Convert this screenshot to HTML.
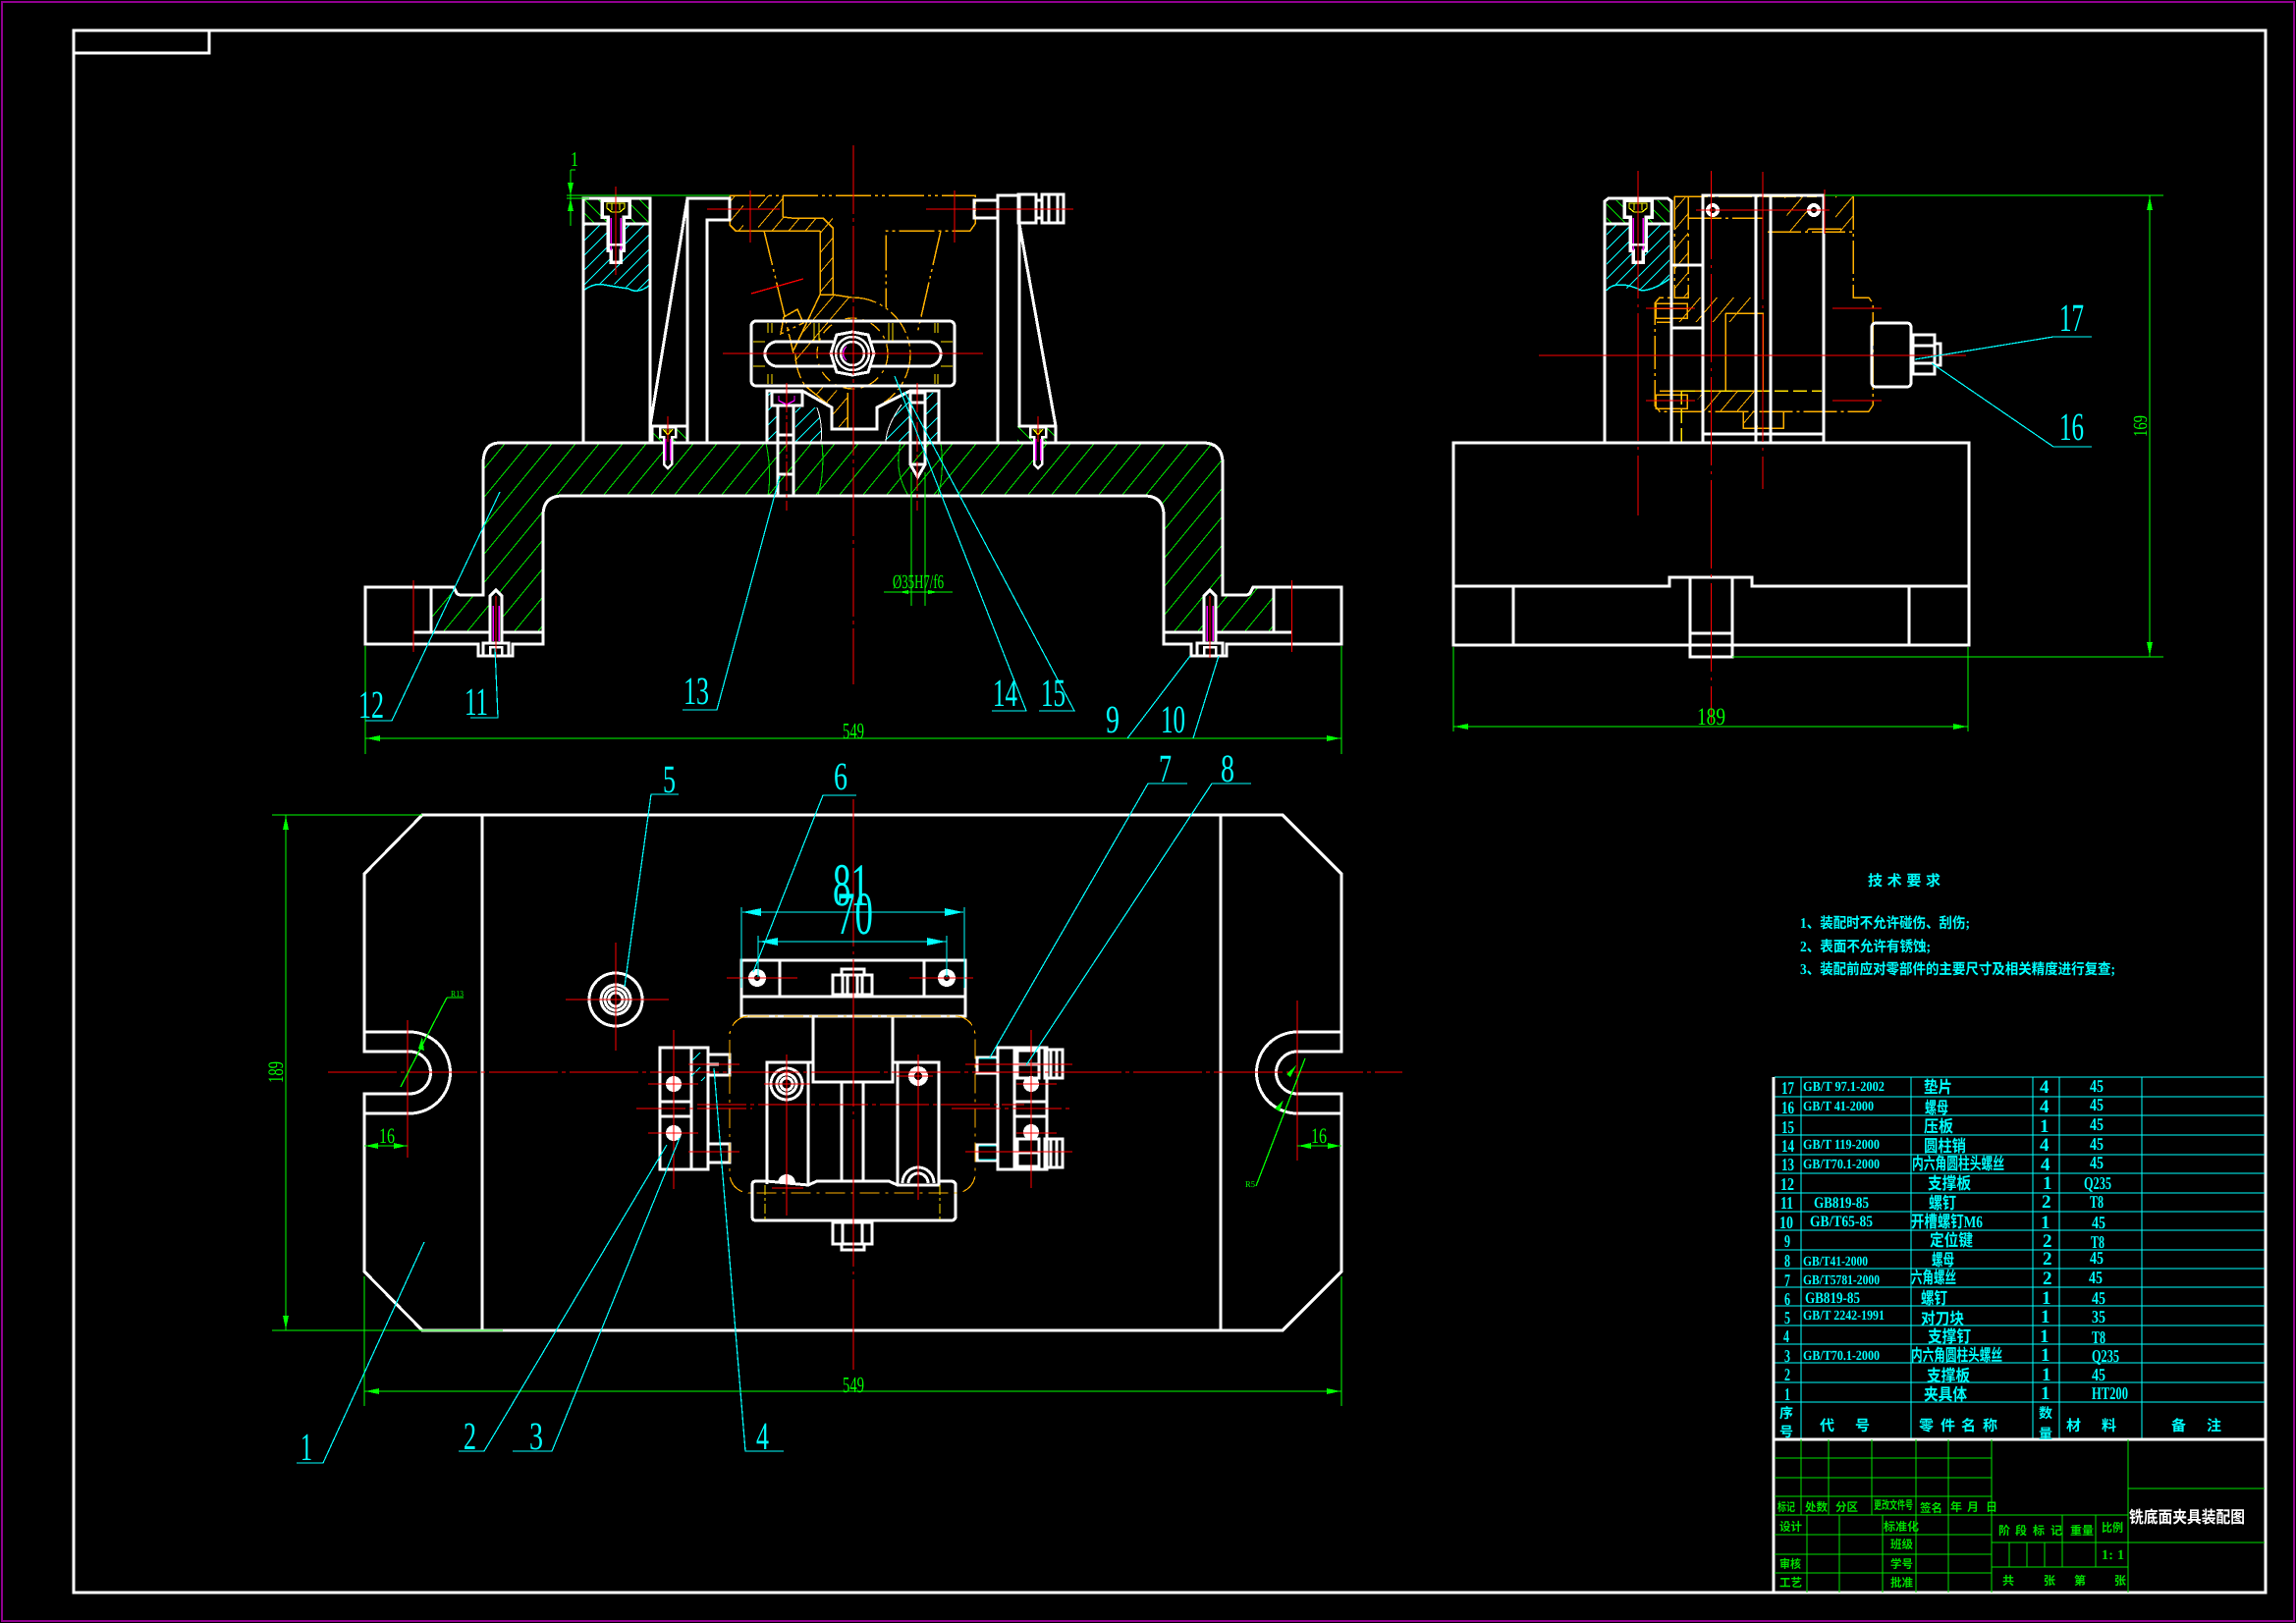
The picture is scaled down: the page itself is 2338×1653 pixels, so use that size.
<!DOCTYPE html>
<html lang="zh"><head><meta charset="utf-8"><title>铣底面夹具装配图</title>
<style>
html,body{margin:0;padding:0;background:#000}
svg{display:block}
text{font-family:"Liberation Serif","Noto Serif CJK SC",serif}
.cj text,text.cj{font-family:"Liberation Serif","Noto Sans CJK SC",sans-serif}
</style></head><body>
<svg xmlns="http://www.w3.org/2000/svg" width="2338" height="1653" viewBox="0 0 2338 1653" shape-rendering="crispEdges" text-rendering="geometricPrecision">
<defs>
<pattern id="hg" width="24" height="29" patternUnits="userSpaceOnUse"><path d="M-3 3.600L3 -3.600M0 29L24 0M21 32.600L27 25.400" stroke="#00e800" stroke-width="1" fill="none"/></pattern>
<pattern id="hg2" width="14" height="14" patternUnits="userSpaceOnUse"><path d="M0 0L14 14M-3 11L3 17M11 -3L17 3" stroke="#00e000" stroke-width="1.100" fill="none"/></pattern>
<pattern id="hc" width="15" height="15" patternUnits="userSpaceOnUse"><path d="M-3 3L3 -3M0 15L15 0M12 18L18 12" stroke="#00ffff" stroke-width="1" fill="none"/></pattern>
<pattern id="ho" width="17" height="20" patternUnits="userSpaceOnUse"><path d="M-3 3.500L3 -3.500M0 20L17 0M14 23.500L20 16.500" stroke="#ffb000" stroke-width="1" fill="none"/></pattern>
<g id="sm"><path d="M-8 0H8V10H4V38L0 42L-4 38V10H-8Z" fill="#000" stroke="#fff" stroke-width="2.500"/><path d="M-5 2L0 8L5 2M-2 2V6M2 2V6" stroke="#ff0" stroke-width="1.200" fill="none"/><path d="M-2.500 12V34M2.500 12V34" stroke="#f0f" stroke-width="1.500"/></g>
<g id="sb"><path d="M-14 0H14V17H8V51H5V63H-5V51H-8V17H-14Z" fill="#000" stroke="#fff" stroke-width="3.500"/><path d="M-9 3V8L-4 12H4L9 8V3ZM-4 3V10M4 3V10" stroke="#ff0" stroke-width="1.200" fill="none"/><path d="M-5 18V51M5 18V51" stroke="#f0f" stroke-width="1.500"/><path d="M-8 45H8" stroke="#fff" stroke-width="2.500"/></g>
<g id="ts"><path d="M-6 -50 L0 -56 L6 -50 V-2 H-6Z" fill="#000" stroke="#fff" stroke-width="3"/><path d="M-3 -40V-4M3 -40V-4" stroke="#f0f" stroke-width="1.500"/><path d="M-13 -2H13V11H-13Z" fill="#000" stroke="#fff" stroke-width="3"/><path d="M-6 2H6V11H-6Z" fill="none" stroke="#fff" stroke-width="2.500"/><path d="M0 -50V13" stroke="#f00" stroke-width="1"/></g>
</defs>
<rect width="2338" height="1653" fill="#000"/>
<rect x="2" y="2" width="2334" height="1649" fill="none" stroke="#90008f" stroke-width="2"/>
<rect x="75" y="31" width="2232" height="1591" fill="none" stroke="#fff" stroke-width="3"/>
<path d="M75 54H213V31" fill="none" stroke="#fff" stroke-width="3"/>

<!-- hatch fills front view -->
<path d="M439 598H462L465 604Q466 606 470 606H492V472Q492 451 509 451H1225Q1245 451 1245 472V606H1268Q1272 606 1273 604L1276 598H1297V644H1185V525Q1185 505 1165 505H573Q553 505 553 525V644H439Z" fill="url(#hg)"/>
<path d="M594 202H662V228H594Z" fill="url(#hg2)"/>
<path d="M594 228H662V290Q650 300 640 294T615 290Q604 288 594 296Z" fill="url(#hc)"/>
<path d="M594 296Q604 288 615 290T640 294Q650 300 662 290" fill="none" stroke="#00ffff" stroke-width="1.500"/>
<path d="M662 434H700V451H662ZM1036 434H1075V451H1036Z" fill="url(#hg2)"/>
<path d="M781 400H792V451H781ZM810 415H832Q838 432 836 451H810ZM902 451Q902 435 918 412L927 402V451ZM942 400H955V451H942Z" fill="url(#hc)"/>
<path d="M780 451Q786 480 782 505M837 451Q840 480 833 505M917 451Q910 480 925 505M958 451Q962 480 955 505" fill="none" stroke="#00d000" stroke-width="1.100"/>
<path d="M832 415Q838 432 836 451M918 412Q902 435 902 451" fill="none" stroke="#fff" stroke-width="1"/>

<!-- orange workpiece front -->
<path d="M743 199H757V235H749L743 229ZM772 199H797V222H848V300L867 303L810 373L808 357L835 303V235H778L772 235ZM820 393L847 415V435H863V400L833 393Z" fill="url(#ho)"/>
<path d="M797 199V221L806 222H838L848 232V300L867 303M835 235V300L808 357M778 235H835M743 199V229L749 235H778M820 393L847 415V436H893V415M863 400V436M848 300H835" fill="none" stroke="#ffb000" stroke-width="1.500"/>
<path d="M743 199H993V228L988 235H902V313M778 235L800 326L808 360M958 235L934 340M798 323L812 315L818 329L795 340Z" fill="none" stroke="#ffb000" stroke-width="1.500" stroke-dasharray="36 4 3 4 3 4"/>
<path d="M867 303A59 59 0 0 1 927 360M927 360A59 59 0 0 1 900 410M810 360A59 59 0 0 0 820 393" fill="none" stroke="#ffb000" stroke-width="1.300" stroke-dasharray="26 4 3 4 3 4"/>
<circle cx="868" cy="360" r="36" fill="none" stroke="#ffb000" stroke-width="1.300" stroke-dasharray="12 6 3 6"/>

<!-- front view white -->
<g fill="none" stroke="#fff" stroke-width="3">
<path d="M372 598H462L465 604Q466 606 470 606H492V472Q492 451 509 451H1225Q1245 451 1245 472V606H1268Q1272 606 1273 604L1276 598H1366V656H1249V668H1213V656H1185V525Q1185 505 1165 505H573Q553 505 553 525V656H522V668H487V656H372Z"/>
<path d="M421 644H553M439 598V644M1185 644H1315M1297 598V644"/>
<path d="M594 451V202H662V451M594 228H662"/>
<path d="M700 451V202H743V224H720V451M700 202L662 434M662 434H700M664 434V451"/>
<path d="M1016 451V199H1038V228L1075 434V451M1038 228V434H1075M1016 199H1038"/>
<path d="M992 204H1016V222H992ZM1037 198H1055V227H1037ZM1061 198H1083V227H1061ZM1055 204H1061M1055 222H1061M1068 198V227M1077 198V227"/>
<rect x="765" y="327" width="207" height="66" rx="5"/>
<rect x="779" y="348" width="179" height="25" rx="12.500"/>
<path d="M781 451V398H817L847 415V437H893V415L927 398H956V451M927 400H942V473L934.500 486L927 473Z"/>
<path d="M792 413V505M808 413V505M792 443H808M792 483H808M927 410H942M927 473H942"/>
</g>
<path d="M786 399H817V413H786Z" fill="#000" stroke="#fff" stroke-width="3"/>
<path d="M793 403V408L801 412L809 408V403M801 402V410" stroke="#f0f" stroke-width="1.300" fill="none"/>
<path d="M852 341L868 338L884 341L890 360L884 379L868 382L852 379L846 360Z" fill="#000" stroke="#fff" stroke-width="3"/>
<circle cx="868" cy="360" r="17" fill="none" stroke="#fff" stroke-width="2.500"/>
<circle cx="868" cy="360" r="12" fill="none" stroke="#fff" stroke-width="2.500"/>
<path d="M862 353A9 9 0 0 0 862 367" stroke="#f0f" stroke-width="1.300" fill="none"/>
<path d="M782 329V339M786 329V339M782 381V391M786 381V391M829 329V347M834 329V347M905 329V347M909 329V347M952 329V339M955 329V339M952 381V391M955 381V391M767 348H779M958 348H970M767 373H779M958 373H970" stroke="#ffe000" stroke-width="1.200" fill="none"/>
<use href="#sb" x="627" y="204"/>
<use href="#sm" x="680" y="435"/>
<use href="#sm" x="1057" y="435"/>
<use href="#ts" x="505" y="657"/>
<use href="#ts" x="1232" y="657"/>

<!-- red front -->
<g fill="none" stroke="#f00" stroke-width="1.300">
<path d="M869 148V697" stroke-dasharray="70 4 4 4"/>
<path d="M736 360H1001M421 591V664M1315.500 591V664M764 194V247M972 194V247M720 213H794M943 213H1093M765 299L818 284M627 190V280M680 424V450M1057 424V450"/>
<path d="M801 390V520M934 390V520" stroke-dasharray="30 3 4 3"/>
</g>

<!-- side view -->
<path d="M1636 204H1700V228H1636Z" fill="url(#hg2)"/>
<path d="M1636 228H1700V284Q1685 295 1672 296T1650 290Q1640 290 1636 296Z" fill="url(#hc)"/>
<path d="M1636 296Q1640 290 1650 290T1672 296Q1685 295 1700 284" fill="none" stroke="#00ffff" stroke-width="1.500"/>
<path d="M1705 200H1719V303H1705ZM1817 200H1842V236H1822ZM1869 200H1887V236H1869ZM1720 303H1790L1770 328H1700ZM1735 398H1786V419H1720ZM1776 419H1790V436H1776Z" fill="url(#ho)"/>
<g fill="none" stroke="#ffb000" stroke-width="1.500">
<path d="M1705 200V303H1720M1719 200V303M1705 200H1850M1719 222H1795M1800 236H1887M1887 200V303H1903L1907 309V413L1903 419H1690L1685 413V309L1690 303H1719" stroke-dasharray="34 4 3 4"/>
<path d="M1687 328H1701M1757 319H1795V398H1690M1757 319V398M1685 314H1718M1775 419V436H1816V419"/>
<path d="M1803 236V370M1842 233H1875" stroke="#ffb000"/>
<path d="M1686 309H1718V324H1686ZM1686 402H1718V416H1686Z"/>
</g>
<path d="M1712 398H1855M1712 398V450" stroke="#ffe000" stroke-width="1.500" stroke-dasharray="14 5" fill="none"/>
<g fill="none" stroke="#fff" stroke-width="3">
<path d="M1480 451H2005V657H1480ZM1480 597H1700V588H1784V597H2005M1541 597V657M1944 597V657"/>
<path d="M1721 588V669H1764V588M1721 645H1764"/>
<path d="M1634 451V205L1638 202H1698L1702 205V451M1634 228H1702"/>
<path d="M1734 451V199H1857V451M1788 199V451M1803 199V451M1734 442H1857M1702 270H1734M1702 334H1734"/>
<rect x="1906" y="329" width="40" height="65" rx="4"/>
<path d="M1948 341H1970V381H1948ZM1948 352H1970M1948 370H1970M1970 350H1976V372H1970"/>
</g>
<use href="#sb" x="1668" y="204"/>
<circle cx="1744" cy="214" r="7" fill="#fff"/><circle cx="1744" cy="214" r="3" fill="#000"/>
<circle cx="1847" cy="214" r="7" fill="#fff"/><circle cx="1847" cy="214" r="3" fill="#000"/>
<g fill="none" stroke="#f00" stroke-width="1.300">
<path d="M1742.500 174V736" stroke-dasharray="90 6 3 6"/>
<path d="M1668 174V525" stroke-dasharray="130 6 3 6"/>
<path d="M1795 175V498" stroke-dasharray="130 6 3 6"/>
<path d="M1858 193V238M1567 362H2002M1727 214H1863M1676 314H1726M1866 314H1916M1676 408H1726M1866 408H1916"/>
</g>
<g stroke="#00ff00" stroke-width="1.300" fill="none">
<path d="M1858 199H2203M1764 669H2203M2189 199V669M1480 740H2004M1480 659V745M2004 659V745"/>
</g>
<g fill="#00ff00">
<path d="M2189 200L2186 214H2192ZM2189 668L2186 654H2192ZM1481 740L1495 737V743ZM2003 740L1989 737V743Z"/>
<text x="1728" y="738" font-size="25" textLength="29" lengthAdjust="spacingAndGlyphs">189</text>
<text transform="translate(2186,445) rotate(-90)" font-size="20" textLength="22" lengthAdjust="spacingAndGlyphs">169</text>
</g>

<!-- front dims -->
<g stroke="#00ff00" stroke-width="1.300" fill="none">
<path d="M372 658V768M1366 658V768M372 752H1366M928 481V617M942 481V617M900 603H970M581 173V230M577 199H743M577 202H600M581 173H586"/>
</g>
<g fill="#00ff00">
<path d="M373 752L387 749V755ZM1365 752L1351 749V755ZM581 199L578 186H584ZM581 202L578 215H584ZM915 603L925 601V605ZM955 603L945 601V605Z"/>
<text x="858" y="752" font-size="23" textLength="22" lengthAdjust="spacingAndGlyphs">549</text>
<text x="909" y="599" font-size="20" textLength="52" lengthAdjust="spacingAndGlyphs">Ø35H7/f6</text>
<text x="581" y="169" font-size="21" textLength="8" lengthAdjust="spacingAndGlyphs">1</text>
</g>

<!-- plan view -->
<g fill="none" stroke="#fff" stroke-width="3">
<path d="M430 830H1306L1366 890V1051H1321A41 41 0 0 0 1321 1134H1366V1295L1306 1355H430L371 1295V1134H417A41 41 0 0 0 417 1051H371V890Z"/>
<path d="M371 1051V1071H417A21.500 21.500 0 0 1 417 1114H371V1134M1366 1051V1071H1321A21.500 21.500 0 0 0 1321 1114H1366V1134"/>
<path d="M491 830V1355M1243 830V1355"/>
<path d="M755 978H983V1035H755ZM755 1015H983M794 978V1015M941 978V1015"/>
<path d="M848 993H888V1013H848ZM857 987H880V993H857ZM858 993V1013M878 993V1013M863 993V1013M873 993V1013"/>
<path d="M828 1035V1102H909V1035M781 1206V1082H828M909 1082H956V1206M823 1082V1206M914 1082V1206M857 1102V1204M879 1102V1204"/>
<path d="M766 1207Q766 1203 770 1203H781L823 1207L832 1203H905L914 1207H956V1203H968Q973 1203 973 1207V1239Q973 1243 968 1243H770Q766 1243 766 1239Z"/>
<path d="M848 1245H888V1267H848ZM858 1245V1267M878 1245V1267M857 1267V1273H880V1267"/>
<circle cx="801" cy="1104" r="16"/><circle cx="801" cy="1104" r="10"/><circle cx="801" cy="1104" r="6"/>
<circle cx="627" cy="1018" r="27"/><circle cx="627" cy="1018" r="15"/><circle cx="627" cy="1018" r="11"/><circle cx="627" cy="1018" r="7"/>
<path d="M919 1205A16 16 0 0 1 951 1205M925 1205A10 10 0 0 1 945 1205"/>
<path d="M1016 1067H1066V1191H1016ZM1033 1067V1191M1033 1122H1066M1033 1137H1066"/>
<path d="M995 1077H1016V1093H995ZM995 1166H1016V1182H995Z"/>
<path d="M1036 1070H1058V1098H1036ZM1036 1160H1058V1188H1036ZM1036 1084H1058M1036 1174H1058"/>
<path d="M1064 1069H1082V1098H1064ZM1064 1160H1082V1189H1064ZM1070 1069V1098M1076 1069V1098M1070 1160V1189M1076 1160V1189"/>
<path d="M672 1067H721V1191H672ZM704 1067V1191M672 1122H704M672 1137H704"/>
<path d="M721 1074H743V1095H721ZM721 1165H743V1184H721ZM721 1084H732"/>
</g>
<circle cx="771" cy="996" r="9" fill="#fff"/><circle cx="771" cy="996" r="3" fill="#000"/>
<circle cx="964" cy="996" r="9" fill="#fff"/><circle cx="964" cy="996" r="3" fill="#000"/>
<circle cx="935" cy="1096" r="10" fill="#fff"/><circle cx="935" cy="1096" r="4" fill="#000"/>
<circle cx="686" cy="1104" r="8" fill="#fff"/><circle cx="686" cy="1154" r="8" fill="#fff"/>
<circle cx="1050" cy="1104" r="8" fill="#fff"/><circle cx="1050" cy="1153" r="8" fill="#fff"/>
<path d="M792 1205A9 9 0 0 1 810 1205Z" fill="#fff"/>
<rect x="704" y="1072" width="14" height="8" fill="url(#hc)"/><rect x="704" y="1087" width="14" height="14" fill="url(#hc)"/>
<path d="M997 1078H1014M997 1092H1014M997 1167H1014M997 1181H1014" stroke="#00ffff" stroke-width="1.300"/>
<rect x="743" y="1035" width="250" height="180" rx="20" fill="none" stroke="#ffb000" stroke-width="1.200" stroke-dasharray="20 6 3 6"/>
<path d="M779 1207V1243M957 1207V1243" stroke="#ffe000" stroke-width="1.200" stroke-dasharray="10 3 3 3"/>
<g fill="none" stroke="#f00" stroke-width="1.300">
<path d="M334 1092H1428" stroke-dasharray="70 4 4 4"/>
<path d="M869 814V1395" stroke-dasharray="150 5 3 5"/>
<path d="M415 1039V1179M1321 1019V1182M576 1018H681M627 960V1070M740 996H812M926 996H991M801 1074V1238M935 1074V1222M778 1104H825M913 1096H950"/>
<path d="M710 1125H1043M969 1129H1089M648 1129H766" stroke-dasharray="50 4 4 4"/>
<path d="M1050 1049V1210M983 1084H1092M983 1173H1092M1035 1104H1076M1035 1154H1076M686 1049V1211M660 1104H711M660 1154H711M701 1084H753M701 1173H753M786 1210H818"/>
</g>
<!-- green plan dims -->
<g stroke="#00ff00" stroke-width="1.300" fill="none">
<path d="M277 830H430M277 1355H512M291 830V1355M371 1300V1432M1366 1300V1432M371 1417H1366M371 1167H415M1321 1167H1366M455 1016H472M455 1016L408 1107M1329 1078L1279 1208"/>
</g>
<g fill="#00ff00">
<path d="M291 831L288 845H294ZM291 1354L288 1340H294ZM372 1417L386 1414V1420ZM1365 1417L1351 1414V1420ZM372 1167L385 1164V1170ZM414 1167L401 1164V1170ZM1322 1167L1335 1164V1170ZM1365 1167L1352 1164V1170ZM430 1056L432 1070L426 1068ZM1307 1120L1303 1132L1298 1129ZM1320 1085L1314 1097L1310 1094Z"/>
<text x="858" y="1418" font-size="23" textLength="22" lengthAdjust="spacingAndGlyphs">549</text>
<text transform="translate(288,1103) rotate(-90)" font-size="22" textLength="22" lengthAdjust="spacingAndGlyphs">189</text>
<text x="386" y="1164" font-size="22" textLength="16" lengthAdjust="spacingAndGlyphs">16</text>
<text x="1335" y="1164" font-size="22" textLength="16" lengthAdjust="spacingAndGlyphs">16</text>
<text x="459" y="1015" font-size="9" textLength="13" lengthAdjust="spacingAndGlyphs">R13</text>
<text x="1268" y="1209" font-size="9" textLength="10" lengthAdjust="spacingAndGlyphs">R5</text>
</g>

<!-- cyan dims and leaders -->
<g fill="none" stroke="#00ffff" stroke-width="1.200">
<path d="M755 924V1006M982 924V1006M756 929H981M772 953V995M964 953V995M772 959H964"/>
<path d="M2091 343H2130M2091 343L1950 366M2091 455H2130M2091 455L1967 370"/>
<path d="M372 734H399L509 501M479 731H507L504 660M695 723H730L794 485M1010 724H1045L911 383M1058 724H1094L921 399M1148 752L1212 668M1215 752L1241 668"/>
<path d="M691 809H663L636 1005M872 810H838L767 990M1209 798H1169L1008 1077M1274 798H1234L1045 1085M302 1490H329L432 1265M467 1478H493L679 1166M522 1478H562L692 1159M798 1478H759L727 1088"/>
</g>
<path d="M756 929L775 925V933ZM981 929L962 925V933ZM773 959L792 955V963ZM963 959L944 955V963Z" fill="#00ffff"/>
<g fill="#00ffff" font-size="40">
<text x="2097" y="337" textLength="25" lengthAdjust="spacingAndGlyphs">17</text>
<text x="2097" y="448" textLength="25" lengthAdjust="spacingAndGlyphs">16</text>
<text x="365" y="731" textLength="26" lengthAdjust="spacingAndGlyphs">12</text>
<text x="473" y="728" textLength="24" lengthAdjust="spacingAndGlyphs">11</text>
<text x="696" y="717" textLength="26" lengthAdjust="spacingAndGlyphs">13</text>
<text x="1011" y="719" textLength="25" lengthAdjust="spacingAndGlyphs">14</text>
<text x="1060" y="719" textLength="25" lengthAdjust="spacingAndGlyphs">15</text>
<text x="1126" y="746" textLength="14" lengthAdjust="spacingAndGlyphs">9</text>
<text x="1182" y="746" textLength="25" lengthAdjust="spacingAndGlyphs">10</text>
<text x="675" y="807" textLength="13" lengthAdjust="spacingAndGlyphs">5</text>
<text x="849" y="804" textLength="14" lengthAdjust="spacingAndGlyphs">6</text>
<text x="1180" y="796" textLength="13" lengthAdjust="spacingAndGlyphs">7</text>
<text x="1243" y="796" textLength="14" lengthAdjust="spacingAndGlyphs">8</text>
<text x="306" y="1487" textLength="12" lengthAdjust="spacingAndGlyphs">1</text>
<text x="472" y="1476" textLength="13" lengthAdjust="spacingAndGlyphs">2</text>
<text x="539" y="1476" textLength="14" lengthAdjust="spacingAndGlyphs">3</text>
<text x="770" y="1476" textLength="13" lengthAdjust="spacingAndGlyphs">4</text>
<text x="848" y="922" font-size="62" textLength="37" lengthAdjust="spacingAndGlyphs">81</text>
<text x="852" y="951" font-size="62" textLength="37" lengthAdjust="spacingAndGlyphs">70</text>
</g>

<!-- technical requirements -->
<g fill="#00ffff" font-size="15" font-weight="bold" class="cj">
<text x="1902" y="902" textLength="74">技 术 要 求</text>
<text x="1833" y="945" textLength="173" lengthAdjust="spacingAndGlyphs">1、装配时不允许碰伤、刮伤;</text>
<text x="1833" y="969" textLength="133" lengthAdjust="spacingAndGlyphs">2、表面不允许有锈蚀;</text>
<text x="1833" y="992" textLength="321" lengthAdjust="spacingAndGlyphs">3、装配前应对零部件的主要尺寸及相关精度进行复查;</text>
</g>

<!-- BOM -->
<g stroke="#00ffff" stroke-width="1.200" fill="none">
<path d="M1807 1097H2306M1807 1117H2306M1807 1136H2306M1807 1156H2306M1807 1176H2306M1807 1195H2306M1807 1215H2306M1807 1234H2306M1807 1253H2306M1807 1273H2306M1807 1292H2306M1807 1311H2306M1807 1330H2306M1807 1350H2306M1807 1369H2306M1807 1388H2306M1807 1408H2306M1807 1428H2306"/>
<path d="M1834 1097V1466M1946 1097V1466M2070 1097V1466M2097 1097V1466M2181 1097V1466"/>
</g>
<path d="M1806 1097V1622M1806 1466H2306" stroke="#fff" stroke-width="3" fill="none"/>
<g fill="#00ffff" font-size="14" font-weight="bold">
<text x="1814" y="1114" textLength="13" lengthAdjust="spacingAndGlyphs" font-size="18">17</text>
<text x="1814" y="1134" textLength="13" lengthAdjust="spacingAndGlyphs" font-size="18">16</text>
<text x="1814" y="1154" textLength="13" lengthAdjust="spacingAndGlyphs" font-size="18">15</text>
<text x="1814" y="1173" textLength="13" lengthAdjust="spacingAndGlyphs" font-size="18">14</text>
<text x="1814" y="1192" textLength="13" lengthAdjust="spacingAndGlyphs" font-size="18">13</text>
<text x="1813" y="1212" textLength="14" lengthAdjust="spacingAndGlyphs" font-size="18">12</text>
<text x="1813" y="1231" textLength="13" lengthAdjust="spacingAndGlyphs" font-size="18">11</text>
<text x="1812" y="1251" textLength="14" lengthAdjust="spacingAndGlyphs" font-size="18">10</text>
<text x="1817" y="1270" textLength="6" lengthAdjust="spacingAndGlyphs" font-size="18">9</text>
<text x="1817" y="1290" textLength="6" lengthAdjust="spacingAndGlyphs" font-size="18">8</text>
<text x="1817" y="1310" textLength="6" lengthAdjust="spacingAndGlyphs" font-size="18">7</text>
<text x="1817" y="1329" textLength="6" lengthAdjust="spacingAndGlyphs" font-size="18">6</text>
<text x="1817" y="1348" textLength="6" lengthAdjust="spacingAndGlyphs" font-size="18">5</text>
<text x="1816" y="1367" textLength="6" lengthAdjust="spacingAndGlyphs" font-size="18">4</text>
<text x="1817" y="1387" textLength="6" lengthAdjust="spacingAndGlyphs" font-size="18">3</text>
<text x="1817" y="1406" textLength="6" lengthAdjust="spacingAndGlyphs" font-size="18">2</text>
<text x="1817" y="1426" textLength="6" lengthAdjust="spacingAndGlyphs" font-size="18">1</text>

<text x="1836" y="1111" textLength="83" lengthAdjust="spacingAndGlyphs">GB/T 97.1-2002</text>
<text x="1836" y="1131" textLength="72" lengthAdjust="spacingAndGlyphs">GB/T 41-2000</text>
<text x="1836" y="1170" textLength="78" lengthAdjust="spacingAndGlyphs">GB/T 119-2000</text>
<text x="1836" y="1190" textLength="78" lengthAdjust="spacingAndGlyphs">GB/T70.1-2000</text>
<text x="1847" y="1230" textLength="56" lengthAdjust="spacingAndGlyphs" font-size="16">GB819-85</text>
<text x="1843" y="1249" textLength="64" lengthAdjust="spacingAndGlyphs" font-size="16">GB/T65-85</text>
<text x="1836" y="1289" textLength="66" lengthAdjust="spacingAndGlyphs">GB/T41-2000</text>
<text x="1836" y="1308" textLength="78" lengthAdjust="spacingAndGlyphs">GB/T5781-2000</text>
<text x="1838" y="1327" textLength="56" lengthAdjust="spacingAndGlyphs" font-size="16">GB819-85</text>
<text x="1836" y="1344" textLength="83" lengthAdjust="spacingAndGlyphs">GB/T 2242-1991</text>
<text x="1836" y="1385" textLength="78" lengthAdjust="spacingAndGlyphs">GB/T70.1-2000</text>
</g>
<g fill="#00ffff" font-size="17" font-weight="bold" class="cj">
<text x="1959" y="1113" textLength="29" lengthAdjust="spacingAndGlyphs">垫片</text>
<text x="1960" y="1134" textLength="24" lengthAdjust="spacingAndGlyphs">螺母</text>
<text x="1959" y="1153" textLength="30" lengthAdjust="spacingAndGlyphs">压板</text>
<text x="1959" y="1173" textLength="43" lengthAdjust="spacingAndGlyphs">圆柱销</text>
<text x="1947" y="1191" textLength="94" lengthAdjust="spacingAndGlyphs">内六角圆柱头螺丝</text>
<text x="1963" y="1211" textLength="44" lengthAdjust="spacingAndGlyphs">支撑板</text>
<text x="1964" y="1231" textLength="28" lengthAdjust="spacingAndGlyphs">螺钉</text>
<text x="1946" y="1250" textLength="73" lengthAdjust="spacingAndGlyphs">开槽螺钉M6</text>
<text x="1965" y="1269" textLength="44" lengthAdjust="spacingAndGlyphs">定位键</text>
<text x="1967" y="1289" textLength="23" lengthAdjust="spacingAndGlyphs">螺母</text>
<text x="1946" y="1307" textLength="46" lengthAdjust="spacingAndGlyphs">六角螺丝</text>
<text x="1956" y="1328" textLength="27" lengthAdjust="spacingAndGlyphs">螺钉</text>
<text x="1956" y="1349" textLength="44" lengthAdjust="spacingAndGlyphs">对刀块</text>
<text x="1963" y="1367" textLength="44" lengthAdjust="spacingAndGlyphs">支撑钉</text>
<text x="1946" y="1386" textLength="93" lengthAdjust="spacingAndGlyphs">内六角圆柱头螺丝</text>
<text x="1962" y="1407" textLength="44" lengthAdjust="spacingAndGlyphs">支撑板</text>
<text x="1959" y="1426" textLength="44" lengthAdjust="spacingAndGlyphs">夹具体</text>
<text x="1812" y="1444" font-size="14">序</text>
<text x="1812" y="1463" font-size="14">号</text>
<text x="1853" y="1457" font-size="15">代</text>
<text x="1889" y="1457" font-size="15">号</text>
<text x="1954" y="1457" font-size="15">零</text>
<text x="1976" y="1457" font-size="15">件</text>
<text x="1997" y="1457" font-size="15">名</text>
<text x="2019" y="1457" font-size="15">称</text>
<text x="2076" y="1444" font-size="14">数</text>
<text x="2076" y="1465" font-size="14">量</text>
<text x="2104" y="1457" font-size="15">材</text>
<text x="2140" y="1457" font-size="15">料</text>
<text x="2211" y="1457" font-size="15">备</text>
<text x="2247" y="1457" font-size="15">注</text>
</g>
<g fill="#00ffff" font-size="19" font-weight="bold">
<text x="2077" y="1113">4</text><text x="2077" y="1133">4</text><text x="2077" y="1153">1</text><text x="2077" y="1172">4</text><text x="2078" y="1192">4</text><text x="2080" y="1211">1</text><text x="2079" y="1230">2</text><text x="2078" y="1251">1</text><text x="2080" y="1270">2</text><text x="2080" y="1288">2</text><text x="2080" y="1308">2</text><text x="2079" y="1328">1</text><text x="2078" y="1347">1</text><text x="2077" y="1367">1</text><text x="2078" y="1386">1</text><text x="2079" y="1406">1</text><text x="2078" y="1425">1</text>
<g font-size="18">
<text x="2128" y="1112" textLength="14" lengthAdjust="spacingAndGlyphs">45</text>
<text x="2128" y="1131" textLength="14" lengthAdjust="spacingAndGlyphs">45</text>
<text x="2128" y="1151" textLength="14" lengthAdjust="spacingAndGlyphs">45</text>
<text x="2128" y="1171" textLength="14" lengthAdjust="spacingAndGlyphs">45</text>
<text x="2128" y="1190" textLength="14" lengthAdjust="spacingAndGlyphs">45</text>
<text x="2122" y="1211" textLength="28" lengthAdjust="spacingAndGlyphs">Q235</text>
<text x="2128" y="1230" textLength="14" lengthAdjust="spacingAndGlyphs">T8</text>
<text x="2130" y="1251" textLength="14" lengthAdjust="spacingAndGlyphs">45</text>
<text x="2129" y="1271" textLength="14" lengthAdjust="spacingAndGlyphs">T8</text>
<text x="2128" y="1287" textLength="14" lengthAdjust="spacingAndGlyphs">45</text>
<text x="2127" y="1307" textLength="14" lengthAdjust="spacingAndGlyphs">45</text>
<text x="2130" y="1328" textLength="14" lengthAdjust="spacingAndGlyphs">45</text>
<text x="2130" y="1347" textLength="14" lengthAdjust="spacingAndGlyphs">35</text>
<text x="2130" y="1368" textLength="14" lengthAdjust="spacingAndGlyphs">T8</text>
<text x="2130" y="1387" textLength="28" lengthAdjust="spacingAndGlyphs">Q235</text>
<text x="2130" y="1406" textLength="14" lengthAdjust="spacingAndGlyphs">45</text>
<text x="2130" y="1425" textLength="37" lengthAdjust="spacingAndGlyphs">HT200</text>
</g></g>

<!-- title block -->
<g stroke="#00e000" stroke-width="1.300" fill="none">
<path d="M1807 1485H2028M1807 1505H2028M1807 1524H2028M1807 1543H2167M1807 1563H2028M1807 1583H2028M1807 1602H2028"/>
<path d="M1834 1466V1543M1862 1466V1543M1906 1466V1543M1951 1466V1622M1984 1466V1622M2028 1466V1622M2167 1466V1622"/>
<path d="M1840 1543V1622M1873 1543V1622M1917 1543V1622"/>
<path d="M2028 1571H2306M2028 1596H2167M2167 1516H2306M2100 1543V1596M2134 1543V1596M2046 1571V1596M2064 1571V1596M2082 1571V1596"/>
</g>
<g fill="#00e000" font-size="12" font-weight="bold" class="cj">
<text x="1810" y="1539" textLength="18" lengthAdjust="spacingAndGlyphs">标记</text>
<text x="1838" y="1539" textLength="23" lengthAdjust="spacingAndGlyphs">处数</text>
<text x="1869" y="1539" textLength="23" lengthAdjust="spacingAndGlyphs">分区</text>
<text x="1908" y="1537" textLength="40" lengthAdjust="spacingAndGlyphs">更改文件号</text>
<text x="1955" y="1540" textLength="23" lengthAdjust="spacingAndGlyphs">签名</text>
<text x="1986" y="1539">年</text><text x="2003" y="1539">月</text><text x="2022" y="1539">日</text>
<text x="1812" y="1559" textLength="23" lengthAdjust="spacingAndGlyphs">设计</text>
<text x="1918" y="1559" textLength="36" lengthAdjust="spacingAndGlyphs">标准化</text>
<text x="1925" y="1577" textLength="23" lengthAdjust="spacingAndGlyphs">班级</text>
<text x="1812" y="1597" textLength="22" lengthAdjust="spacingAndGlyphs">审核</text>
<text x="1925" y="1597" textLength="23" lengthAdjust="spacingAndGlyphs">学号</text>
<text x="1812" y="1616" textLength="23" lengthAdjust="spacingAndGlyphs">工艺</text>
<text x="1925" y="1616" textLength="23" lengthAdjust="spacingAndGlyphs">批准</text>
<text x="2035" y="1563">阶</text><text x="2052" y="1563">段</text><text x="2070" y="1563">标</text><text x="2088" y="1563">记</text>
<text x="2108" y="1563" textLength="24" lengthAdjust="spacingAndGlyphs">重量</text>
<text x="2140" y="1560" textLength="22" lengthAdjust="spacingAndGlyphs">比例</text>
<text x="2140" y="1588" font-size="14" textLength="23" lengthAdjust="spacing">1: 1</text>
<text x="2039" y="1614">共</text><text x="2081" y="1614">张</text><text x="2112" y="1614">第</text><text x="2153" y="1614">张</text>
</g>
<text x="2168" y="1551" fill="#fff" font-size="17" font-weight="bold" textLength="118" lengthAdjust="spacingAndGlyphs" class="cj">铣底面夹具装配图</text>
</svg>
</body></html>
